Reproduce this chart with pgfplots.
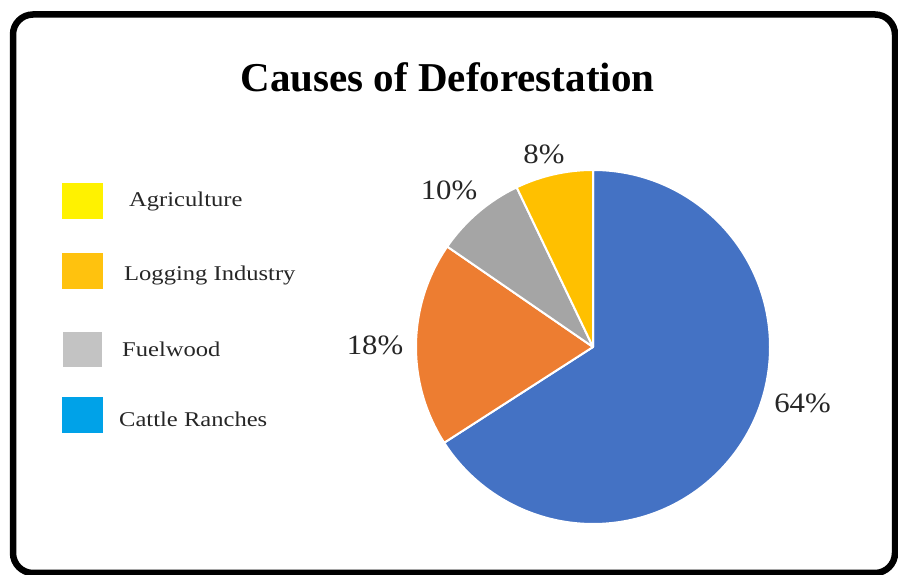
\documentclass[border=0pt]{standalone}
\usepackage{pgfplots}
\pgfplotsset{compat=1.18}
\usepackage{pgfplotstable}
\usepackage{graphicx}
\usepackage{fontspec}
\setmainfont{Liberation Serif}

\definecolor{cblue}{HTML}{4472C4}
\definecolor{corange}{HTML}{ED7D31}
\definecolor{cgray}{HTML}{A5A5A5}
\definecolor{cgold}{HTML}{FFC000}
\definecolor{lyellow}{HTML}{FFF200}
\definecolor{lgold}{HTML}{FFC20E}
\definecolor{lgray}{HTML}{C3C3C3}
\definecolor{lblue}{HTML}{00A2E8}

% slice shares (drawn proportions), clockwise from 12 o'clock
\pgfplotstableread{
slice value
CattleRanches 65.9
Orange 18.7
Gray 8.3
Gold 7.1
}\piedata

\begin{document}
\begin{tikzpicture}
\pgfplotstablegetelem{0}{value}\of\piedata \edef\vA{\pgfplotsretval}
\pgfplotstablegetelem{1}{value}\of\piedata \edef\vB{\pgfplotsretval}
\pgfplotstablegetelem{2}{value}\of\piedata \edef\vC{\pgfplotsretval}
\pgfplotstablegetelem{3}{value}\of\piedata \edef\vD{\pgfplotsretval}
\pgfmathsetmacro\aA{90}
\pgfmathsetmacro\aB{\aA-3.6*\vA}
\pgfmathsetmacro\aC{\aB-3.6*\vB}
\pgfmathsetmacro\aD{\aC-3.6*\vC}
\pgfmathsetmacro\aE{\aD-3.6*\vD}
\begin{axis}[
  width=898pt, height=575pt, scale only axis,
  xmin=0, xmax=898, ymin=0, ymax=575,
  hide axis, clip=false,
]
% frame
\draw[line width=6.5pt, rounded corners=20pt] (axis cs:13,2) rectangle (axis cs:895,560.5);
% title
\node[anchor=base, font=\fontsize{41}{45}\selectfont\bfseries] at (axis cs:447.5,483) {Causes of Deforestation};
% pie slices
\fill[cblue, draw=white, line width=2pt, line join=round] (axis cs:593,228) -- ++(\aA:177pt) arc[start angle=\aA, end angle=\aB, radius=177pt] -- cycle;
\fill[corange, draw=white, line width=2pt, line join=round] (axis cs:593,228) -- ++(\aB:177pt) arc[start angle=\aB, end angle=\aC, radius=177pt] -- cycle;
\fill[cgray, draw=white, line width=2pt, line join=round] (axis cs:593,228) -- ++(\aC:177pt) arc[start angle=\aC, end angle=\aD, radius=177pt] -- cycle;
\fill[cgold, draw=white, line width=2pt, line join=round] (axis cs:593,228) -- ++(\aD:177pt) arc[start angle=\aD, end angle=\aE, radius=177pt] -- cycle;
% percent labels
\node[anchor=base, font=\fontsize{28}{32}\selectfont, text=black!85] at (axis cs:544,411) {\scalebox{1.1}[1]{8\%}};
\node[anchor=base, font=\fontsize{28}{32}\selectfont, text=black!85] at (axis cs:449,375) {\scalebox{1.1}[1]{10\%}};
\node[anchor=base, font=\fontsize{28}{32}\selectfont, text=black!85] at (axis cs:375,220) {\scalebox{1.1}[1]{18\%}};
\node[anchor=base, font=\fontsize{28}{32}\selectfont, text=black!85] at (axis cs:802.5,162) {\scalebox{1.1}[1]{64\%}};
% legend
\fill[lyellow] (axis cs:62,356) rectangle (axis cs:103,392);
\fill[lgold] (axis cs:62,286) rectangle (axis cs:103,322);
\fill[lgray] (axis cs:63,208) rectangle (axis cs:102,243);
\fill[lblue] (axis cs:62,142) rectangle (axis cs:103,178);
\node[anchor=base west, inner sep=0pt, font=\fontsize{21}{24}\selectfont, text=black!85] at (axis cs:129,368.3) {\scalebox{1.17}[1]{Agriculture}};
\node[anchor=base west, inner sep=0pt, font=\fontsize{21}{24}\selectfont, text=black!85] at (axis cs:124,294) {\scalebox{1.17}[1]{Logging Industry}};
\node[anchor=base west, inner sep=0pt, font=\fontsize{21}{24}\selectfont, text=black!85] at (axis cs:122,218) {\scalebox{1.17}[1]{Fuelwood}};
\node[anchor=base west, inner sep=0pt, font=\fontsize{21}{24}\selectfont, text=black!85] at (axis cs:119,148.3) {\scalebox{1.17}[1]{Cattle Ranches}};
\end{axis}
\pgfresetboundingbox
\path (0,0) rectangle (898pt,575pt);
\end{tikzpicture}
\end{document}
